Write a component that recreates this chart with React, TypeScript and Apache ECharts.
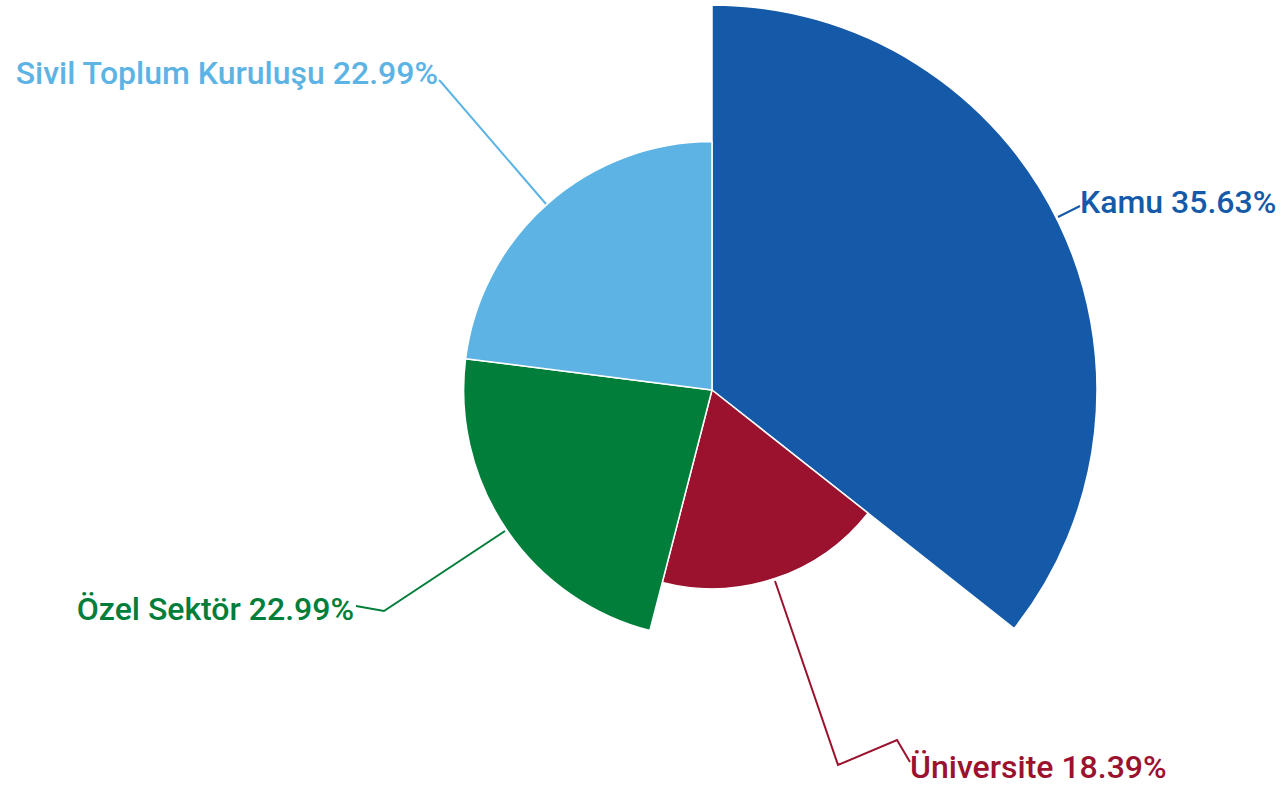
import React, { useEffect, useRef } from "react";
import * as echarts from "echarts";

const categories = ["Kamu", "Üniversite", "Özel Sektör", "Sivil Toplum Kuruluşu"];
const values = [31, 16, 20, 20];
const colors = ["#145AA8", "#9B122E", "#007E3A", "#5DB4E4"];

// label placement (layout only)
const labelPos: { x: number; y: number; align: string; line: number[][] }[] = [
  { x: 1080, y: 202, align: "left", line: [[1058, 217], [1080, 206]] },
  { x: 910, y: 767, align: "left", line: [[775, 581], [838, 765], [897, 740], [910, 762]] },
  { x: 354, y: 609, align: "right", line: [[505, 531], [384, 611], [356, 606]] },
  { x: 438, y: 73, align: "right", line: [[546, 204], [441, 82], [439, 80]] },
];

export default function App() {
  const ref = useRef<HTMLDivElement>(null);
  useEffect(() => {
    if (!ref.current) return;
    const chart = echarts.init(ref.current, null, { renderer: "svg" });
    const total = values.reduce((a, b) => a + b, 0);
    chart.setOption({
      animation: false,
      backgroundColor: "#ffffff",
      series: [
        {
          type: "pie",
          roseType: "radius",
          center: [712, 390],
          radius: [0, 385],
          startAngle: 90,
          clockwise: true,
          avoidLabelOverlap: false,
          data: categories.map((c, i) => ({
            name: c,
            value: values[i],
            itemStyle: { color: colors[i], borderColor: "#ffffff", borderWidth: 1.5 },
            label: { color: colors[i] },
            labelLine: { lineStyle: { color: colors[i], width: 2 } },
          })),
          label: {
            show: true,
            fontFamily: "Roboto",
            fontSize: 32,
            fontWeight: 500,
            lineHeight: 30,
            overflow: "none",
            edgeDistance: 0,
            formatter: (p: any) => `${p.name} ${((p.value / total) * 100).toFixed(2)}%`,
          },
          labelLine: { show: true, smooth: false },
          labelLayout: (params: any) => {
            const lp = labelPos[params.dataIndex];
            return {
              x: lp.x,
              y: lp.y,
              align: lp.align,
              verticalAlign: "middle",
              labelLinePoints: lp.line,
            };
          },
        },
      ],
    });
    return () => chart.dispose();
  }, []);
  return (
    <div
      ref={ref}
      style={{ position: "absolute", left: 0, top: 0, width: 1282, height: 785 }}
    />
  );
}
